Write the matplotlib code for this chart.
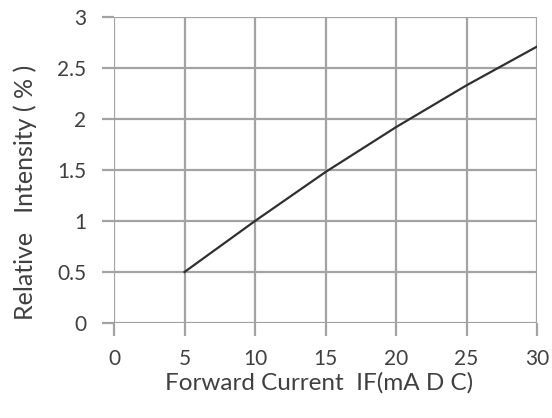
import matplotlib
matplotlib.use("Agg")
import matplotlib.pyplot as plt

# Forward current (mA) vs relative intensity (%)
current = [5, 10, 15, 20, 25, 30]
intensity = [0.5, 1.0, 1.48, 1.92, 2.33, 2.71]

x_ticks = [0, 5, 10, 15, 20, 25, 30]
y_ticks = [0, 0.5, 1, 1.5, 2, 2.5, 3]
y_labels = ["0", "0.5", "1", "1.5", "2", "2.5", "3"]

plt.rcParams['font.family'] = ['Lato', 'DejaVu Sans']
grid_c = '#a3a3a3'
text_c = '#404040'

fig = plt.figure(figsize=(5.52, 4.18), dpi=100)
ax = fig.add_axes([114/552, 1 - 323/418, (537-114)/552, (323-17)/418])

ax.plot(current, intensity, color='#303030', lw=1.6, zorder=3)

ax.set_xlim(0, 30)
ax.set_ylim(0, 3)
ax.set_xticks(x_ticks)
ax.set_yticks(y_ticks)
ax.set_yticklabels(y_labels)
ax.grid(True, color=grid_c, lw=1.6)
for s in ax.spines.values():
    s.set_visible(False)
ax.tick_params(length=9, width=1.6, color=grid_c, labelcolor=text_c,
               labelsize=15)
ax.tick_params(axis='x', pad=10)
ax.tick_params(axis='y', pad=11)

ax.set_xlabel("Forward Current  IF(mA D C)", color=text_c, fontsize=17.5,
              va='center')
ax.xaxis.set_label_coords(0.485, -0.195)
ax.set_ylabel("Relative   Intensity ( % )", color=text_c, fontsize=18,
              va='center')
ax.yaxis.set_label_coords(-0.21, 0.428)

fig.savefig("out.png", dpi=100)
